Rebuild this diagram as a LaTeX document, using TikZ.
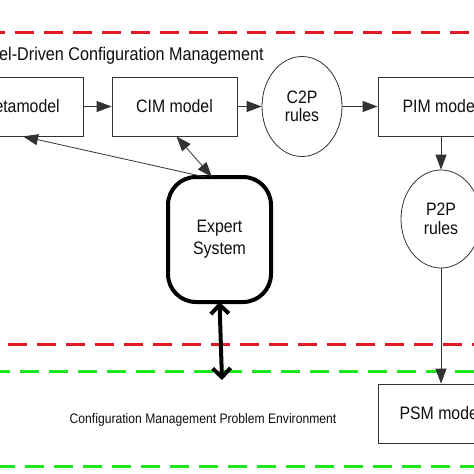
\documentclass[tikz,border=0pt]{standalone}
\usepackage{fontspec}
\setmainfont{Liberation Sans}[FakeStretch=0.88]
\usetikzlibrary{shapes.geometric,arrows.meta}
\definecolor{dred}{RGB}{225,25,35}
\definecolor{dgreen}{RGB}{30,230,30}
\definecolor{ln}{RGB}{50,50,50}
\definecolor{tx}{RGB}{15,15,15}
\begin{document}
\begin{tikzpicture}[x=1pt,y=-1pt,
  box/.style={draw=ln,line width=0.8pt,minimum width=125pt,minimum height=59pt,inner sep=0pt,font=\fontsize{18}{22}\selectfont,text=tx},
  rule/.style={draw=ln,line width=0.8pt,ellipse,minimum width=80pt,minimum height=100pt,inner sep=0pt,align=center,font=\fontsize{18}{18.5}\selectfont,text=tx},
  expertbox/.style={draw=black,line width=4pt,rounded corners=28pt,minimum width=103pt,minimum height=125pt,inner sep=0pt,align=center,font=\fontsize{18}{22}\selectfont,text=tx},
  conn/.style={draw=ln,line width=0.8pt,-{Triangle[length=15pt,width=11pt]}},
  biconn/.style={draw=ln,line width=0.8pt,{Triangle[length=15pt,width=11pt]}-{Triangle[length=15pt,width=11pt]}},
  thickconn/.style={draw=black,line width=4pt,{Straight Barb[length=9pt,width=18pt]}-{Straight Barb[length=9pt,width=18pt]}},
  reddash/.style={draw=dred,line width=3pt,dash pattern=on 19pt off 10pt},
  greendash/.style={draw=dgreen,line width=3pt,dash pattern=on 19pt off 10pt},
  lbl/.style={inner sep=0pt,text=tx}
]
\useasboundingbox (0,0) rectangle (474,474);
\clip (0,0) rectangle (474,474);
\fill[white] (0,0) rectangle (474,474);

% dashed boundaries
\draw[reddash] (-14,32) -- (480,32);
\draw[reddash] (8,344) -- (474,344);
\draw[greendash] (-9,371) -- (480,371);
\draw[greendash] (-4,466) -- (480,466);

% titles
\node[lbl,anchor=base east,font=\fontsize{18.4}{21}\selectfont] (title) at (264,60) {Model-Driven Configuration Management};
\node[lbl,anchor=base,font=\fontsize{13.8}{16}\selectfont] (envlabel) at (203,423) {Configuration Management Problem Environment};

% nodes
\node[box] (meta) at (20.5,106.5) {Metamodel};
\node[box] (cim) at (174.5,106.5) {CIM model};
\node[rule] (c2p) at (302,106.5) {C2P\\rules};
\node[box] (pim) at (440.5,106.5) {PIM model};
\node[rule,minimum height=98pt] (p2p) at (441,219) {P2P\\rules};
\node[box] (psm) at (440.5,413.5) {PSM model};
\node[expertbox] (expert) at (219.5,239.5) {Expert\\System};
\coordinate (envtop) at (222,380);

% connectors
\draw[conn] (meta) -- (cim);
\draw[conn] (cim) -- (c2p);
\draw[conn] (c2p) -- (pim);
\draw[conn] (pim.south -| p2p.north) -- (p2p.north);
\draw[conn] (p2p.south) -- (psm.north -| p2p.south);
\draw[biconn] ([xshift=2pt]cim.south) -- ([xshift=-7.5pt,yshift=-2pt]expert.north);
\draw[conn] ([xshift=-14.5pt,yshift=-2pt]expert.north) -- ([xshift=2.5pt]meta.south);
\draw[thickconn] ([yshift=2pt]expert.south) -- (envtop);
\end{tikzpicture}
\end{document}
